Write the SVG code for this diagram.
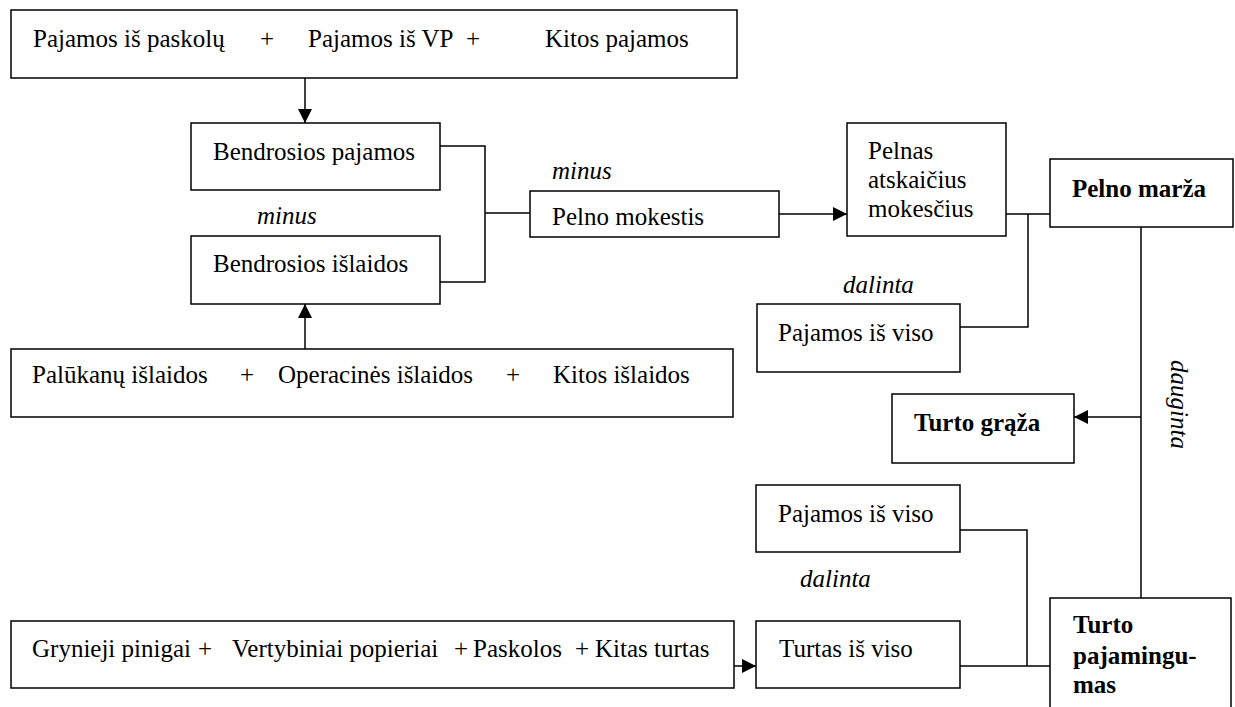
<svg xmlns="http://www.w3.org/2000/svg" width="1235" height="707" viewBox="0 0 1235 707">
<style>
.box{fill:#fff;stroke:#000;stroke-width:1.5}
.t{font-family:"Liberation Serif","Times New Roman",serif;font-size:25px;fill:#000}
.b{font-weight:bold}
.i{font-style:italic}
.c{fill:none;stroke:#000;stroke-width:1.5}
</style>
<defs>
<marker id="ah" markerUnits="userSpaceOnUse" markerWidth="14" markerHeight="14" refX="14" refY="7" orient="auto">
<path d="M0,0 L14,7 L0,14 z" fill="#000"/>
</marker>
</defs>
<rect width="1235" height="707" fill="#fff"/>
<g id="connectors">
<path class="c" d="M305,78 V123" marker-end="url(#ah)"/>
<path class="c" d="M305,349 V304" marker-end="url(#ah)"/>
<path class="c" d="M440,146 H485 V282 H440 M485,213 H530"/>
<path class="c" d="M779,214 H847" marker-end="url(#ah)"/>
<path class="c" d="M1006,214 H1050 M1028,214 V327 H960"/>
<path class="c" d="M1141,227 V598"/>
<path class="c" d="M1141,417 H1074" marker-end="url(#ah)"/>
<path class="c" d="M960,530 H1027 V666 M960,666 H1050"/>
<path class="c" d="M734,666 H756" marker-end="url(#ah)"/>
</g>
<g id="labels">
<text class="t i" x="257" y="224">minus</text>
<text class="t i" x="552" y="179">minus</text>
<text class="t i" x="843" y="293">dalinta</text>
<text class="t i" x="800" y="587">dalinta</text>
<text class="t i" transform="translate(1171,360) rotate(90)">dauginta</text>
</g>
<g id="pajamos-sum">
<rect class="box" x="11" y="10" width="726" height="68"/>
<text class="t" y="47"><tspan x="33">Pajamos iš paskolų</tspan><tspan x="260">+</tspan><tspan x="308">Pajamos iš VP</tspan><tspan x="466">+</tspan><tspan x="545">Kitos pajamos</tspan></text>
</g>
<g id="bendrosios-pajamos">
<rect class="box" x="191" y="123" width="249" height="67"/>
<text class="t" x="213" y="160">Bendrosios pajamos</text>
</g>
<g id="bendrosios-islaidos">
<rect class="box" x="191" y="236" width="249" height="68"/>
<text class="t" x="213" y="272">Bendrosios išlaidos</text>
</g>
<g id="islaidos-sum">
<rect class="box" x="11" y="349" width="722" height="68"/>
<text class="t" y="383"><tspan x="32">Palūkanų išlaidos</tspan><tspan x="240">+</tspan><tspan x="278">Operacinės išlaidos</tspan><tspan x="506">+</tspan><tspan x="553">Kitos išlaidos</tspan></text>
</g>
<g id="pelno-mokestis">
<rect class="box" x="530" y="191" width="249" height="46"/>
<text class="t" x="552" y="225">Pelno mokestis</text>
</g>
<g id="pelnas">
<rect class="box" x="847" y="123" width="159" height="113"/>
<text class="t" x="868" y="159">Pelnas</text>
<text class="t" x="868" y="188">atskaičius</text>
<text class="t" x="868" y="217">mokesčius</text>
</g>
<g id="pelno-marza">
<rect class="box" x="1050" y="159" width="183" height="68"/>
<text class="t b" x="1072" y="197">Pelno marža</text>
</g>
<g id="pajamos-viso-1">
<rect class="box" x="757" y="304" width="203" height="68"/>
<text class="t" x="778" y="341">Pajamos iš viso</text>
</g>
<g id="turto-graza">
<rect class="box" x="892" y="394" width="182" height="69"/>
<text class="t b" x="914" y="431">Turto grąža</text>
</g>
<g id="pajamos-viso-2">
<rect class="box" x="756" y="485" width="204" height="67"/>
<text class="t" x="778" y="522">Pajamos iš viso</text>
</g>
<g id="turto-sum">
<rect class="box" x="11" y="621" width="723" height="67"/>
<text class="t" y="657"><tspan x="32">Grynieji pinigai</tspan><tspan x="198">+</tspan><tspan x="232">Vertybiniai popieriai</tspan><tspan x="454">+</tspan><tspan x="473">Paskolos</tspan><tspan x="575">+</tspan><tspan x="595">Kitas turtas</tspan></text>
</g>
<g id="turtas-viso">
<rect class="box" x="756" y="621" width="204" height="67"/>
<text class="t" x="779" y="657">Turtas iš viso</text>
</g>
<g id="turto-pajamingumas">
<rect class="box" x="1050" y="598" width="181" height="120"/>
<text class="t b" x="1073" y="633">Turto</text>
<text class="t b" x="1073" y="664">pajamingu-</text>
<text class="t b" x="1073" y="693">mas</text>
</g>
</svg>
